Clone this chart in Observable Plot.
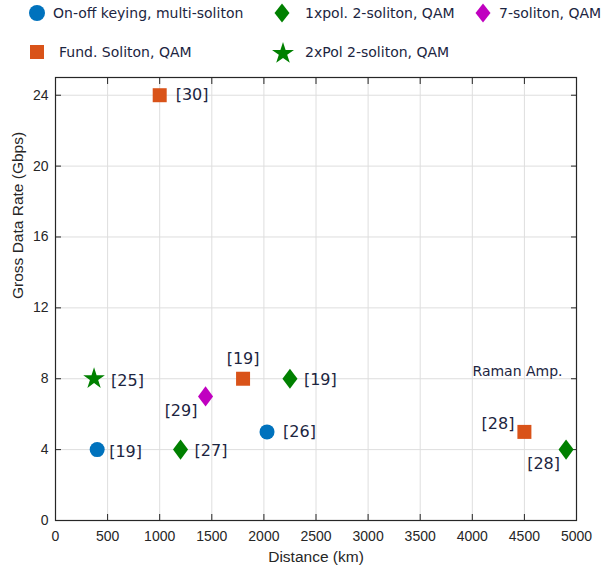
<!DOCTYPE html>
<html><head><meta charset="utf-8">
<script src="https://cdn.jsdelivr.net/npm/d3@7"></script>
<script src="https://cdn.jsdelivr.net/npm/@observablehq/plot@0.6"></script>
<style>
body{margin:0;background:#fff;}
#legend{display:block;}
#chart svg{display:block;}
</style></head>
<body><svg id="legend" width="611" height="70"></svg><div id="chart"></div>
<script>
// Series names
const seriesNames = ["On-off keying, multi-soliton","1xpol. 2-soliton, QAM","7-soliton, QAM","Fund. Soliton, QAM","2xPol 2-soliton, QAM"];
// Data per series: distance (km), rate (Gbps), reference label
const onoffDist = [400, 2030];
const onoffRate = [4, 5];
const onoffRef  = ["[19]","[26]"];
const pol1Dist = [1200, 2250, 4900];
const pol1Rate = [4, 8, 4];
const pol1Ref  = ["[27]","[19]","[28]"];
const sol7Dist = [1440];
const sol7Rate = [7];
const sol7Ref  = ["[29]"];
const fundDist = [1000, 1800, 4500];
const fundRate = [24, 8, 5];
const fundRef  = ["[30]","[19]","[28]"];
const pol2Dist = [370];
const pol2Rate = [8];
const pol2Ref  = ["[25]"];
const xTicks = [0,500,1000,1500,2000,2500,3000,3500,4000,4500,5000];
const yTicks = [0,4,8,12,16,20,24];
const annotationText = "Raman Amp.";
const annotationDist = 4434;
const annotationRate = 8.4;

const colors = {onoff:"#0072BD", pol1:"#008000", sol7:"#C000C0", fund:"#D95319", pol2:"#008000"};
const textColor = "#1c2541";
const axisColor = "#262626";
const LABELFONT = "DejaVu Sans, sans-serif";
const AXISFONT = "'Liberation Sans', Arial, sans-serif";

const mk = (d,r,ref) => d.map((x,i)=>({x, y:r[i], ref:ref[i]}));
const onoff = mk(onoffDist,onoffRate,onoffRef);
const pol1 = mk(pol1Dist,pol1Rate,pol1Ref);
const sol7 = mk(sol7Dist,sol7Rate,sol7Ref);
const fund = mk(fundDist,fundRate,fundRef);
const pol2 = mk(pol2Dist,pol2Rate,pol2Ref);

// tall diamond symbol (MATLAB-like)
const tallDiamond = {draw(ctx, size){ const s=Math.sqrt(size), w=s*0.5, h=s*0.67;
  ctx.moveTo(0,-h); ctx.lineTo(w,0); ctx.lineTo(0,h); ctx.lineTo(-w,0); ctx.closePath(); }};

const lbl = (data, opts) => Plot.text(data, {x:"x", y:"y", text:"ref", fill:textColor, fontSize:16, fontFamily:LABELFONT, ...opts});

const chart = Plot.plot({
  width:611, height:497,
  marginTop:7, marginBottom:47, marginLeft:55, marginRight:35,
  style:{fontFamily:AXISFONT, fontSize:"14px", color:axisColor, background:"#fff"},
  x:{domain:[0,5000], ticks:xTicks, label:null},
  y:{domain:[0,25], ticks:yTicks, label:null},
  marks:[
    Plot.gridX(xTicks,{stroke:"#dedede", strokeOpacity:1}),
    Plot.gridY(yTicks,{stroke:"#dedede", strokeOpacity:1}),
    Plot.frame({stroke:axisColor, strokeWidth:1.2}),
    Plot.axisX(xTicks,{anchor:"bottom", tickSize:-6, tickPadding:17, tickFormat:d3.format("d"), stroke:axisColor, fill:axisColor, fontSize:14, fontFamily:AXISFONT}),
    Plot.axisX(xTicks,{anchor:"top", tickSize:-6, tickFormat:()=>"", stroke:axisColor}),
    Plot.axisY(yTicks,{anchor:"left", tickSize:-6, tickPadding:13, stroke:axisColor, fill:axisColor, fontSize:14, fontFamily:AXISFONT}),
    Plot.axisY(yTicks,{anchor:"right", tickSize:-6, tickFormat:()=>"", stroke:axisColor}),
    Plot.text(["Distance (km)"],{frameAnchor:"bottom", dy:41, fill:axisColor, fontSize:15.5, fontFamily:AXISFONT}),
    Plot.text(["Gross Data Rate (Gbps)"],{frameAnchor:"left", dx:-37, rotate:-90, fill:axisColor, fontSize:15.5, fontFamily:AXISFONT}),
    Plot.dot(onoff,{x:"x", y:"y", r:7.5, fill:colors.onoff}),
    Plot.dot(pol1,{x:"x", y:"y", symbol:tallDiamond, r:8.5, fill:colors.pol1}),
    Plot.dot(sol7,{x:"x", y:"y", symbol:tallDiamond, r:8.5, fill:colors.sol7}),
    Plot.dot(fund,{x:"x", y:"y", symbol:"square", r:7.9, fill:colors.fund}),
    Plot.dot(pol2,{x:"x", y:"y", symbol:"star", r:6.8, fill:colors.pol2}),
    lbl(onoff.filter((d,i)=>i===0),{textAnchor:"start", dx:12, dy:2}),
    lbl(onoff.filter((d,i)=>i===1),{textAnchor:"start", dx:16, dy:0}),
    lbl(pol1.filter((d,i)=>i<2),{textAnchor:"start", dx:14, dy:1}),
    lbl(pol1.filter((d,i)=>i===2),{textAnchor:"middle", dx:-22.5, dy:14}),
    lbl(sol7,{textAnchor:"middle", dx:-24.5, dy:14}),
    lbl(fund.filter((d,i)=>i===0),{textAnchor:"start", dx:16, dy:0}),
    lbl(fund.filter((d,i)=>i===1),{textAnchor:"middle", dx:0, dy:-20}),
    lbl(fund.filter((d,i)=>i===2),{textAnchor:"end", dx:-10, dy:-8}),
    lbl(pol2,{textAnchor:"start", dx:17, dy:2}),
    Plot.text([annotationText],{x:[annotationDist], y:[annotationRate], text:d=>d, fill:textColor, fontSize:14, fontFamily:LABELFONT, textAnchor:"middle"})
  ]
});
document.getElementById("chart").append(chart);

// Legend (symbol centre, text start, row centre)
const legendItems = [
  {name:seriesNames[0], sym:"circle",  color:colors.onoff, cx:37,  tx:53,  cy:13},
  {name:seriesNames[1], sym:"diamond", color:colors.pol1,  cx:282, tx:305, cy:13},
  {name:seriesNames[2], sym:"diamond", color:colors.sol7,  cx:483, tx:499, cy:13},
  {name:seriesNames[3], sym:"square",  color:colors.fund,  cx:37,  tx:59,  cy:52},
  {name:seriesNames[4], sym:"star",    color:colors.pol2,  cx:283, tx:305, cy:52}
];
const lg = d3.select("#legend");
for (const it of legendItems){
  const g = lg.append("g").attr("transform",`translate(${it.cx},${it.cy})`);
  if (it.sym==="circle") g.append("circle").attr("r",8).attr("fill",it.color);
  else if (it.sym==="diamond") g.append("path").attr("d","M0,-9.5L7.5,0L0,9.5L-7.5,0Z").attr("fill",it.color);
  else if (it.sym==="square") g.append("rect").attr("x",-7).attr("y",-7).attr("width",14).attr("height",14).attr("fill",it.color);
  else g.append("path").attr("d", d3.symbol(d3.symbolStar, 150)()).attr("transform","translate(0,1.5)").attr("fill",it.color);
  lg.append("text").attr("x",it.tx).attr("y",it.cy).attr("dy","0.35em")
    .attr("font-family",LABELFONT).attr("font-size",14).attr("fill",textColor).text(it.name);
}
</script></body></html>
